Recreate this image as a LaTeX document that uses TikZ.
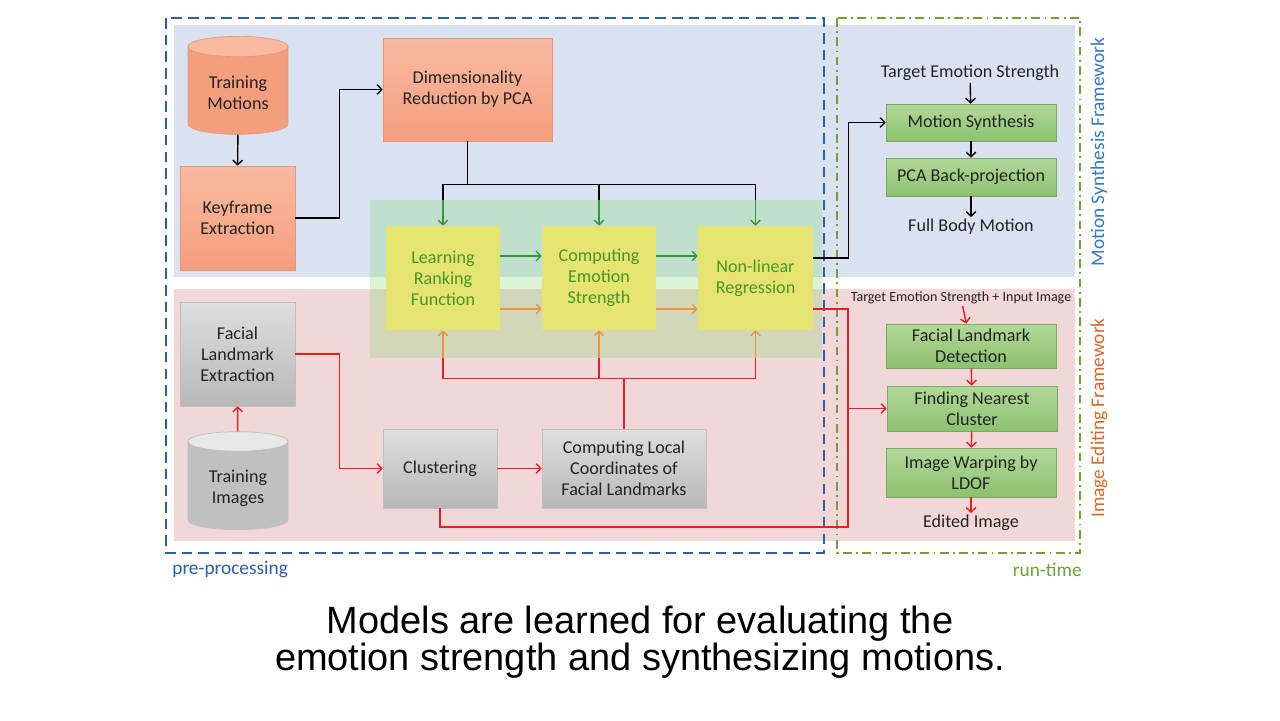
\documentclass[tikz,border=0pt]{standalone}
\usepackage{fontspec}
\setmainfont{Carlito}
\newfontfamily\capfont{Liberation Sans}
\usetikzlibrary{positioning, shapes.geometric, arrows.meta}

\definecolor{bandblue}{RGB}{218,226,242}
\definecolor{bandpink}{RGB}{242,215,216}
\definecolor{bandgreen}{RGB}{115,215,95}
\definecolor{preblue}{RGB}{46,94,176}
\definecolor{rungreen}{RGB}{112,160,58}
\definecolor{sideblue}{RGB}{52,120,200}
\definecolor{sideorange}{RGB}{222,102,40}
\definecolor{orangetop}{RGB}{249,186,160}
\definecolor{orangebot}{RGB}{244,158,126}
\definecolor{orangeline}{RGB}{232,150,120}
\definecolor{graytop}{RGB}{222,222,222}
\definecolor{graybot}{RGB}{184,184,184}
\definecolor{grayline}{RGB}{190,190,190}
\definecolor{rttop}{RGB}{178,216,152}
\definecolor{rtbot}{RGB}{140,194,112}
\definecolor{rtline}{RGB}{122,170,98}
\definecolor{modelyellow}{RGB}{229,228,112}
\definecolor{modeltext}{RGB}{72,150,40}
\definecolor{darktext}{RGB}{35,35,35}
\definecolor{arrowgreen}{RGB}{50,150,60}
\definecolor{arroworange}{RGB}{232,150,60}
\definecolor{arrowred}{RGB}{236,28,36}

\newcommand{\boxfont}{\fontsize{10.3}{11.9}\selectfont}
\newcommand{\smallboxfont}{\fontsize{8}{9.5}\selectfont}
\newcommand{\sidefont}{\fontsize{11}{13}\selectfont}

\begin{document}
\begin{tikzpicture}[
        x=0.02cm, y=-0.02cm,
        motion_node/.style={rectangle, minimum width=2.3cm, minimum height=2.08cm, align=center, top color=orangetop, bottom color=orangebot, draw=orangeline, font=\boxfont, text=darktext},
        image_node/.style={rectangle, minimum width=2.3cm, minimum height=1.58cm, align=center, top color=graytop, bottom color=graybot, draw=grayline, font=\boxfont, text=darktext},
        model_node/.style={rectangle, minimum width=2.28cm, minimum height=2.08cm, align=center, fill=modelyellow, font=\boxfont, text=modeltext},
        runtime_node/.style={rectangle, minimum width=3.4cm, inner sep=1pt, align=center, top color=rttop, bottom color=rtbot, draw=rtline, font=\boxfont, text=darktext},
        database_node/.style={cylinder, shape border rotate=90, aspect=0.28, minimum width=2.0cm, minimum height=1.96cm, align=center, cylinder uses custom fill, font=\boxfont, text=darktext},
        text_node/.style={inner sep=1pt, align=center, font=\boxfont, text=darktext},
        line/.style={line width=0.8pt, draw=black},
        arrow/.style={-{Straight Barb[length=2.6pt, width=5.5pt]}, line width=0.8pt, draw=black},
        red_line/.style={line width=0.8pt, draw=arrowred},
        red_arrow/.style={-{Straight Barb[length=2.6pt, width=5.5pt]}, line width=0.8pt, draw=arrowred},
        green_arrow/.style={-{Straight Barb[length=2.6pt, width=5.5pt]}, line width=0.8pt, draw=arrowgreen},
        orange_arrow/.style={-{Straight Barb[length=2.6pt, width=5.5pt]}, line width=0.8pt, draw=arroworange}
    ]
        \useasboundingbox (0,0) rectangle (1280,720);
        \fill[white] (0,0) rectangle (1280,720);

        % Bands
        \fill[bandblue] (174,25) rectangle (1075,277);
        \fill[bandpink] (174,289) rectangle (1075,541);
        \node (gband) [fill=bandgreen, fill opacity=0.25, minimum width=9.04cm, minimum height=3.16cm, inner sep=0pt] at (596,279) {};
        \draw[preblue, line width=0.9pt, dash pattern=on 6pt off 3.5pt] (166,18) rectangle (824,553);
        \draw[rungreen, line width=0.9pt, dash pattern=on 5pt off 2.5pt on 1pt off 2.5pt] (837,18) rectangle (1080,553);

        % Nodes
        \node (tmot) [database_node, draw=orangeline, cylinder body fill=orangebot, cylinder end fill=orangetop] at (238,93) {Training\\Motions};
        \node (keyf) [motion_node] at (237.5,218) {Keyframe\\Extraction};
        \node (dimred) [motion_node, minimum width=3.38cm, minimum height=2.06cm] at (467.5,89.5) {Dimensionality\\Reduction by PCA};
        \node (learn) [model_node] at (443,278) {Learning\\Ranking\\Function};
        \node (compes) [model_node] at (599,278) {Computing\\Emotion\\Strength};
        \node (nonlin) [model_node, minimum width=2.3cm] at (755.5,278) {Non-linear\\Regression};
        \node (facext) [image_node, minimum height=2.08cm] at (237.5,354) {Facial\\Landmark\\Extraction};
        \node (timg) [database_node, draw=grayline, cylinder body fill=graybot!80!graytop, cylinder end fill=graytop!70!white] at (238,488) {Training\\Images};
        \node (clust) [image_node, minimum width=2.28cm] at (440,468.5) {Clustering};
        \node (cloc) [image_node, minimum width=3.28cm] at (624,468.5) {Computing Local\\Coordinates of\\Facial Landmarks};

        \node (tes) [text_node] at (970,73) {Target Emotion Strength};
        \node (msyn) [runtime_node, minimum height=0.74cm] at (971,122.5) {Motion Synthesis};
        \node (pcab) [runtime_node, minimum height=0.76cm] at (971,177) {PCA Back-projection};
        \node (fbm) [text_node] at (971,227) {Full Body Motion};
        \node (tesii) [text_node, font=\smallboxfont] at (961,298) {Target Emotion Strength + Input Image};
        \node (fld) [runtime_node, minimum height=0.88cm] at (971,346) {Facial Landmark\\Detection};
        \node (fnc) [runtime_node, minimum height=0.9cm] at (972,408.5) {Finding Nearest\\Cluster};
        \node (iwl) [runtime_node, minimum height=0.98cm] at (971,472.5) {Image Warping by\\LDOF};
        \node (edimg) [text_node] at (971,523) {Edited Image};

        % Labels
        \node (pre_label) [anchor=west, inner sep=0pt, font=\sidefont, text=preblue] at (172,570) {pre-processing};
        \node (run_label) [anchor=east, inner sep=0pt, font=\sidefont, text=rungreen] at (1082,570) {run-time};
        \node (msf_label) [rotate=90, inner sep=0pt, font=\sidefont, text=sideblue] at (1099,152) {Motion Synthesis Framework};
        \node (ief_label) [rotate=90, inner sep=0pt, font=\sidefont, text=sideorange] at (1099,418) {Image Editing Framework};
        \node (caption) [align=center, font=\capfont\fontsize{21.6}{21}\selectfont] at (640,642) {Models are learned for evaluating the\\emotion strength and synthesizing motions.};

        % Motion arrows
        \draw [arrow] (tmot) -- (keyf);
        \draw [arrow] (keyf.east) -- ++(44,0) |- (dimred.west);
        \coordinate (fork) at ([yshift=-0.86cm]dimred.south);
        \draw [line] (dimred) -- (fork);
        \draw [line] (learn.north |- fork) -- (nonlin.north |- fork);
        \draw [line] (learn.north |- fork) -- (learn.north |- gband.north);
        \draw [line] (compes.north |- fork) -- (compes.north |- gband.north);
        \draw [line] (nonlin.north |- fork) -- (nonlin.north |- gband.north);
        \draw [green_arrow] (learn.north |- gband.north) -- (learn);
        \draw [green_arrow] (compes.north |- gband.north) -- (compes);
        \draw [green_arrow] (nonlin.north |- gband.north) -- (nonlin);
        \draw [green_arrow] ([yshift=0.44cm]learn.east) -- ([yshift=0.44cm]compes.west);
        \draw [green_arrow] ([yshift=0.44cm]compes.east) -- ([yshift=0.44cm]nonlin.west);
        \draw [orange_arrow] ([yshift=-0.62cm]learn.east) -- ([yshift=-0.62cm]compes.west);
        \draw [orange_arrow] ([yshift=-0.62cm]compes.east) -- ([yshift=-0.62cm]nonlin.west);
        \draw [arrow] ([yshift=0.4cm]nonlin.east) -- ++(35,0) |- (msyn.west);
        \draw [arrow] (tes) -- (msyn);
        \draw [arrow] (msyn) -- (pcab);
        \draw [arrow] (pcab) -- (fbm);

        % Image arrows
        \draw [red_arrow] (timg) -- (facext);
        \draw [red_arrow] (facext.east) -- ++(44,0) |- (clust.west);
        \draw [red_arrow] (clust) -- (cloc);
        \coordinate (rfork) at ([yshift=1cm]cloc.north);
        \draw [red_line] (cloc.north) -- (rfork);
        \draw [red_line] (learn.south |- rfork) -- (nonlin.south |- rfork);
        \draw [red_line] (learn.south |- rfork) -- (learn.south |- gband.south);
        \draw [red_line] (compes.south |- rfork) -- (compes.south |- gband.south);
        \draw [red_line] (nonlin.south |- rfork) -- (nonlin.south |- gband.south);
        \draw [orange_arrow] (learn.south |- gband.south) -- (learn);
        \draw [orange_arrow] (compes.south |- gband.south) -- (compes);
        \draw [orange_arrow] (nonlin.south |- gband.south) -- (nonlin);
        \coordinate (rbus) at (848,527);
        \draw [red_line] ([yshift=-0.62cm]nonlin.east) -| (rbus) -| (clust.south);
        \draw [red_arrow] (rbus |- fnc.west) -- (fnc.west);
        \draw [red_arrow] (tesii) -- (fld);
        \draw [red_arrow] (fld) -- (fnc);
        \draw [red_arrow] (fnc) -- (iwl);
        \draw [red_arrow] (iwl) -- (edimg);
    \end{tikzpicture}
\end{document}
